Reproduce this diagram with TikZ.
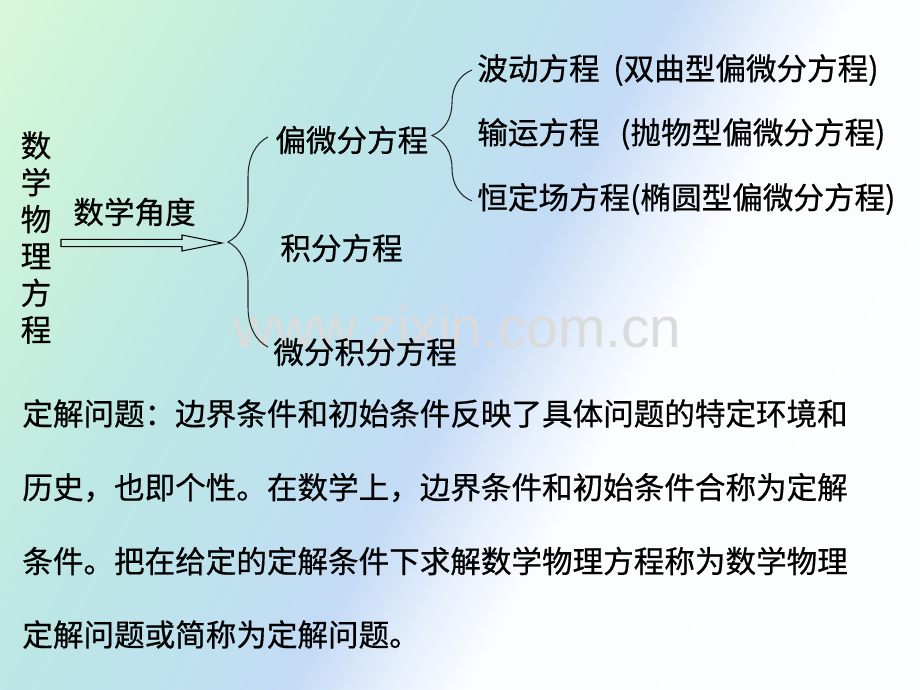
\documentclass[tikz,border=0pt]{standalone}
\usepackage{fontspec}
\usetikzlibrary{decorations.pathreplacing}
\newfontfamily\cjk[FakeBold=0.6]{Noto Sans CJK SC}
\newfontfamily\markfont{Liberation Sans}
\definecolor{bggreen}{HTML}{D8F8D8}
\definecolor{bgmint}{HTML}{CAF1DC}
\definecolor{bgcyan}{HTML}{BCE7E4}
\definecolor{bgteal}{HTML}{BEE2EE}
\definecolor{bgblue}{HTML}{C4DBF6}
\definecolor{bgpale}{HTML}{E6EFFC}
\definecolor{bgwhite}{HTML}{FBFDFF}
\pgfdeclarehorizontalshading{slidebg}{100bp}{color(0bp)=(bggreen); color(15.95bp)=(bggreen);
  color(24.8bp)=(bgmint); color(35.5bp)=(bgcyan); color(43.8bp)=(bgteal); color(51.2bp)=(bgblue);
  color(56.2bp)=(bgpale); color(60.4bp)=(bgwhite); color(100bp)=(white)}
\begin{document}
\begin{tikzpicture}[x=0.02cm, y=-0.02cm,
	txt/.style={font=\cjk\fontsize{17.4}{21}\selectfont, inner sep=0pt, anchor=west},
	bracket/.style={decorate, decoration={brace, amplitude=0.8cm}, line width=0.6pt, draw=black!85}]
	\shade[shading=slidebg, shading angle=-29.36] (0,0) rectangle (920,690);
	\node[font=\markfont\fontsize{32.3}{36}\selectfont, text=black!14, anchor=base west, inner sep=0pt] (mark) at (233,347) {www.zixin.com.cn};
	% left part
	\node[txt, anchor=center, align=center, font=\cjk\fontsize{17.4}{20.98}\selectfont] (title) at (36,237.5) {数\\学\\物\\理\\方\\程};
	\node[txt] (angle) at (73,212) {数学角度};
	\coordinate (arrtail) at (61,243);
	\coordinate (arrtip) at (222,243);
	\draw[line width=0.6pt] (arrtail) ++(0,-3.7) -- ++(121,0) -- ++(0,-4.3) -- (arrtip) -- ++(-40,8) -- ++(0,-4.3) -- ++(-121,0) -- cycle;
	% first brace
	\coordinate (b1top) at (268,137);
	\coordinate (b1bot) at (268,347);
	\draw[bracket] (b1bot) -- (b1top);
	\node[txt] (pde) at (275,140) {偏微分方程};
	\node[txt] (inteq) at (280,248) {积分方程};
	\node[txt] (mixed) at (273,352) {微分积分方程};
	% second brace
	\coordinate (b2top) at (472,70);
	\coordinate (b2bot) at (472,201);
	\draw[bracket] (b2bot) -- (b2top);
	\node[txt] (wave) at (477,70) {波动方程\ \ (双曲型偏微分方程)};
	\node[txt] (transport) at (477,134) {输运方程\ \ \ (抛物型偏微分方程)};
	\node[txt] (steady) at (477,199) {恒定场方程(椭圆型偏微分方程)};
	% text below
	\node[txt] (line1) at (22,413.5) {定解问题：边界条件和初始条件反映了具体问题的特定环境和};
	\node[txt] (line2) at (22,487.5) {历史，也即个性。在数学上，边界条件和初始条件合称为定解};
	\node[txt] (line3) at (22,561) {条件。把在给定的定解条件下求解数学物理方程称为数学物理};
	\node[txt] (line4) at (22,634.5) {定解问题或简称为定解问题。};
\end{tikzpicture}
\end{document}
